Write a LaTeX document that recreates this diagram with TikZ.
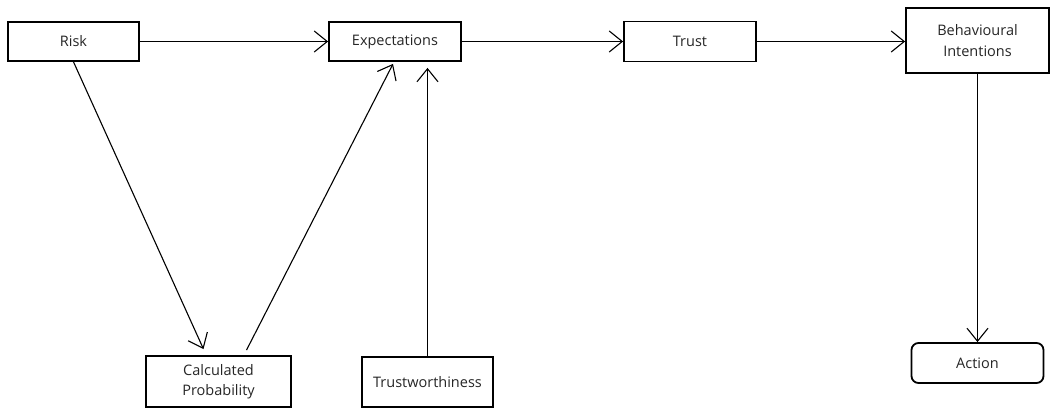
\documentclass[tikz,border=0pt]{standalone}
\usepackage{fontspec}
\setmainfont{Open Sans}
\usetikzlibrary{arrows.meta,calc}
\begin{document}
\begin{tikzpicture}[x=1pt,y=-1pt,
  box/.style={draw=black,line width=1.8pt,fill=white,text=black!85,font=\fontsize{14.5}{20.5}\selectfont,align=center,inner sep=0pt},
  arr/.style={line width=1.1pt,-{Straight Barb[length=13pt,width=21pt,line width=1.1pt]}}]
\useasboundingbox (0,0) rectangle (1050,409);
\node[box,minimum width=131pt,minimum height=39pt] (risk) at (73.5,41.5) {Risk};
\node[box,minimum width=132pt,minimum height=39pt] (exp) at (395,41.5) {Expectations};
\node[box,minimum width=132pt,minimum height=40pt] (trust) at (690,41.5) {Trust};
\node[box,minimum width=143pt,minimum height=65pt] (bi) at (977.5,40.5) {Behavioural\\Intentions};
\node[box,rounded corners=7pt,minimum width=132pt,minimum height=40pt] (act) at (977.5,363) {Action};
\node[box,minimum width=145pt,minimum height=51pt] (cp) at (218.5,381.5) {Calculated\\Probability};
\node[box,minimum width=131pt,minimum height=50pt] (tw) at (427.5,382) {Trustworthiness};
\draw[arr] (risk.east) -- (exp.west);
\draw[arr] (exp.east) -- (exp.east -| trust.west);
\draw[arr] (trust.east) -- (trust.east -| bi.west);
\draw[arr] (bi.south) -- (bi.south |- act.north);
\draw[arr] (risk.south) -- ($(cp.north)+(-15,-6)$);
\draw[arr] ($(cp.north)+(28,-5)$) -- ($(exp.south)+(-2,2)$);
\draw[arr] (tw.north) -- ($(tw.north |- exp.south)+(0,6)$);
\end{tikzpicture}
\end{document}
